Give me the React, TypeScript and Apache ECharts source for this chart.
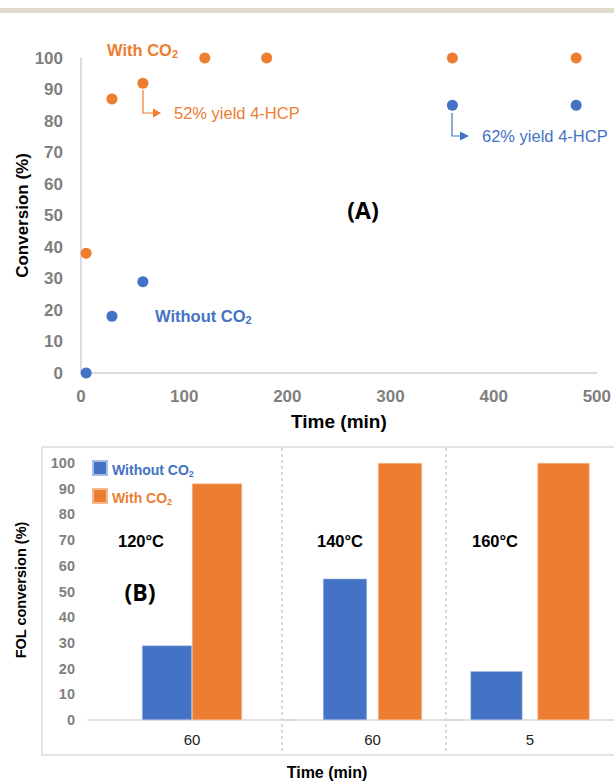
import React, { useEffect, useRef } from "react";
import * as echarts from "echarts";

// ---- Panel (A) data ----
const timeWith = [5, 30, 60, 120, 180, 360, 480];
const convWith = [38, 87, 92, 100, 100, 100, 100];
const timeWithout = [5, 30, 60, 360, 480];
const convWithout = [0, 18, 29, 85, 85];

// ---- Panel (B) data ----
const barCategories = ["60", "60", "5"];
const temperatures = ["120°C", "140°C", "160°C"];
const barWithout = [29, 55, 19];
const barWith = [92, 100, 100];

const BLUE = "#4472C4";
const ORANGE = "#ED7D31";
const GREY = "#7f7f7f";
const FONT = "'Liberation Sans', Arial, sans-serif";

export default function App() {
  const ref = useRef<HTMLDivElement>(null);

  useEffect(() => {
    document.body.style.margin = "0";
    const chart = echarts.init(ref.current!, null, { renderer: "svg" });

    const barGrids = [
      { left: 88, top: 463, width: 208, height: 257 },
      { left: 282, top: 463, width: 181, height: 257 },
      { left: 446, top: 463, width: 184, height: 257 },
    ];
    const barWidths = [50, 44, 52];
    const barGaps = ["0%", "25%", "29%"];

    const xAxes: any[] = [
      {
        gridIndex: 0,
        type: "value",
        min: 0,
        max: 500,
        interval: 100,
        name: "Time (min)",
        nameLocation: "middle",
        nameGap: 39,
        nameTextStyle: { fontFamily: FONT, fontWeight: "bold", fontSize: 19, color: "#000" },
        axisLine: { show: true, lineStyle: { color: "#d0d0d0", width: 1.5 } },
        axisTick: { show: false },
        splitLine: { show: false },
        axisLabel: { fontFamily: FONT, fontWeight: "bold", fontSize: 17, color: GREY, margin: 15 },
      },
    ];
    const yAxes: any[] = [
      {
        gridIndex: 0,
        type: "value",
        min: 0,
        max: 100,
        interval: 10,
        name: "Conversion (%)",
        nameLocation: "middle",
        nameGap: 50,
        nameMoveOverlap: false,
        nameTextStyle: { fontFamily: FONT, fontWeight: "bold", fontSize: 17, color: "#000" },
        axisLine: { show: true, lineStyle: { color: "#d0d0d0", width: 1.5 } },
        axisTick: { show: false },
        splitLine: { show: false },
        axisLabel: { fontFamily: FONT, fontWeight: "bold", fontSize: 17, color: GREY, margin: 18 },
      },
    ];
    const series: any[] = [
      {
        name: "With CO2 (A)",
        type: "scatter",
        xAxisIndex: 0,
        yAxisIndex: 0,
        symbolSize: 11,
        itemStyle: { color: ORANGE, opacity: 1 },
        data: timeWith.map((t, i) => [t, convWith[i]]),
      },
      {
        name: "Without CO2 (A)",
        type: "scatter",
        xAxisIndex: 0,
        yAxisIndex: 0,
        symbolSize: 11,
        itemStyle: { color: BLUE, opacity: 1 },
        data: timeWithout.map((t, i) => [t, convWithout[i]]),
      },
    ];

    barCategories.forEach((cat, i) => {
      xAxes.push({
        gridIndex: i + 1,
        type: "category",
        data: [cat],
        axisLine: { show: true, lineStyle: { color: "#d9d9d9", width: 1.5 } },
        axisTick: { show: false },
        axisLabel: { fontFamily: FONT, fontSize: 15, color: "#222", margin: 12 },
      });
      yAxes.push({
        gridIndex: i + 1,
        type: "value",
        min: 0,
        max: 100,
        interval: 10,
        show: i === 0,
        axisLine: { show: false },
        axisTick: { show: false },
        splitLine: { show: false },
        axisLabel: { fontFamily: FONT, fontWeight: "bold", fontSize: 14.5, color: GREY, margin: 13 },
      });
      series.push(
        {
          name: "Without CO2",
          type: "bar",
          xAxisIndex: i + 1,
          yAxisIndex: i + 1,
          barWidth: barWidths[i],
          barGap: barGaps[i],
          itemStyle: { color: BLUE, borderColor: "#a9bde6", borderWidth: 0.6 },
          data: [barWithout[i]],
        },
        {
          name: "With CO2",
          type: "bar",
          xAxisIndex: i + 1,
          yAxisIndex: i + 1,
          barWidth: barWidths[i],
          barGap: barGaps[i],
          itemStyle: { color: ORANGE, borderColor: "#f5b88e", borderWidth: 0.6 },
          data: [barWith[i]],
        }
      );
    });

    const sub = (color: string, size: number, bold: boolean) => ({
      a: { fontFamily: FONT, fontSize: size, fontWeight: bold ? "bold" : "normal", fill: color, lineHeight: 22, verticalAlign: "bottom" },
      s: { fontFamily: FONT, fontSize: Math.round(size * 0.65), fontWeight: bold ? "bold" : "normal", fill: color, lineHeight: 22, verticalAlign: "bottom", padding: [0, 0, -1, 0] },
    });

    const tempCenters = [141, 340, 495];

    const graphic: any[] = [
      { type: "rect", shape: { x: 0, y: 8, width: 614, height: 5 }, style: { fill: "#e0dbcb" }, silent: true },
      // panel B frame and separators
      { type: "rect", shape: { x: 42, y: 447, width: 600, height: 308 }, style: { fill: "none", stroke: "#dcdcdc", lineWidth: 1.5 }, silent: true },
      { type: "line", shape: { x1: 282, y1: 448, x2: 282, y2: 754 }, style: { stroke: "#b5b5b5", lineWidth: 1, lineDash: [3, 3] }, silent: true },
      { type: "line", shape: { x1: 446, y1: 448, x2: 446, y2: 754 }, style: { stroke: "#b5b5b5", lineWidth: 1, lineDash: [3, 3] }, silent: true },
      // panel A annotations
      { type: "text", x: 107, y: 47, style: { text: "{a|With CO}{s|2}", rich: sub(ORANGE, 16.5, true), fill: ORANGE, align: "left", verticalAlign: "middle" } },
      { type: "text", x: 155, y: 313, style: { text: "{a|Without CO}{s|2}", rich: sub(BLUE, 16.5, true), fill: BLUE, align: "left", verticalAlign: "middle" } },
      { type: "polyline", shape: { points: [[143, 90], [143, 113], [155, 113]] }, style: { stroke: ORANGE, lineWidth: 1.2, fill: "none" } },
      { type: "polygon", shape: { points: [[153, 108.5], [161, 113], [153, 117.5]] }, style: { fill: ORANGE } },
      { type: "text", x: 174, y: 113, style: { text: "52% yield 4-HCP", fontFamily: FONT, fontSize: 16.5, fill: ORANGE, align: "left", verticalAlign: "middle" } },
      { type: "polyline", shape: { points: [[452, 113], [452, 136], [462, 136]] }, style: { stroke: BLUE, lineWidth: 1.2, fill: "none" } },
      { type: "polygon", shape: { points: [[460, 131.5], [469, 136], [460, 140.5]] }, style: { fill: BLUE } },
      { type: "text", x: 482, y: 136, style: { text: "62% yield 4-HCP", fontFamily: FONT, fontSize: 16.5, fill: BLUE, align: "left", verticalAlign: "middle" } },
      { type: "text", x: 363, y: 210, style: { text: "(A)", fontFamily: "'Open Sans', sans-serif", fontWeight: "bold", fontSize: 23, fill: "#000", align: "center", verticalAlign: "middle" } },
      // panel B annotations
      { type: "text", x: 140, y: 592, style: { text: "(B)", fontFamily: "'Open Sans', sans-serif", fontWeight: "bold", fontSize: 23, fill: "#000", align: "center", verticalAlign: "middle" } },
      { type: "text", x: 21, y: 590, rotation: Math.PI / 2, style: { text: "FOL conversion (%)", fontFamily: FONT, fontWeight: "bold", fontSize: 14.5, fill: "#000", align: "center", verticalAlign: "middle" } },
      { type: "text", x: 327, y: 772, style: { text: "Time (min)", fontFamily: FONT, fontWeight: "bold", fontSize: 16, fill: "#000", align: "center", verticalAlign: "middle" } },
    ];
    temperatures.forEach((t, i) => {
      graphic.push({
        type: "text",
        x: tempCenters[i],
        y: 541,
        style: { text: t, fontFamily: FONT, fontWeight: "bold", fontSize: 16.5, fill: "#000", align: "center", verticalAlign: "middle" },
      });
    });

    chart.setOption({
      animation: false,
      backgroundColor: "#fff",
      textStyle: { fontFamily: FONT },
      grid: [{ left: 81, top: 58, width: 517, height: 315 }, ...barGrids],
      xAxis: xAxes,
      yAxis: yAxes,
      legend: {
        data: ["Without CO2", "With CO2"],
        orient: "vertical",
        left: 87,
        top: 455,
        itemWidth: 14,
        itemHeight: 14,
        itemGap: 10,
        icon: "rect",
        selectedMode: false,
        formatter: (name: string) => (name === "Without CO2" ? "{b|Without CO}{bs|2}" : "{o|With CO}{os|2}"),
        textStyle: {
          rich: {
            b: { fontFamily: FONT, fontSize: 14, fontWeight: "bold", color: BLUE, lineHeight: 18, verticalAlign: "bottom" },
            bs: { fontFamily: FONT, fontSize: 9, fontWeight: "bold", color: BLUE, lineHeight: 18, verticalAlign: "bottom", padding: [0, 0, -1, 0] },
            o: { fontFamily: FONT, fontSize: 14, fontWeight: "bold", color: ORANGE, lineHeight: 18, verticalAlign: "bottom" },
            os: { fontFamily: FONT, fontSize: 9, fontWeight: "bold", color: ORANGE, lineHeight: 18, verticalAlign: "bottom", padding: [0, 0, -1, 0] },
          },
        },
      },
      series,
      graphic,
    });

    return () => chart.dispose();
  }, []);

  return <div ref={ref} style={{ width: 614, height: 781 }} />;
}
